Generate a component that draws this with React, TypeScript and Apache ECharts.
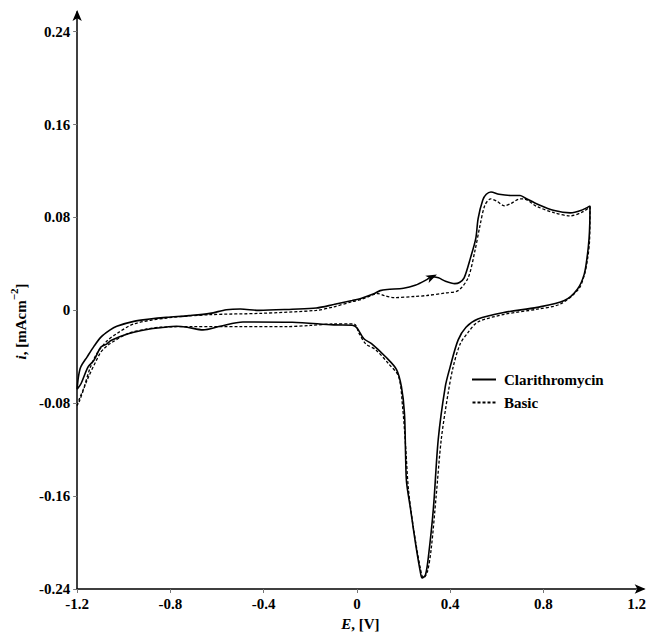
import React, { useEffect, useRef } from "react";
import * as echarts from "echarts";

// Potential E [V] and current density i [mA cm^-2]
const clariAnodic: [number, number][] = [
  [-1.2, -0.068], [-1.195, -0.058], [-1.185, -0.049], [-1.157, -0.040], [-1.128, -0.031],
  [-1.098, -0.023], [-1.06, -0.017], [-1.03, -0.0137], [-0.957, -0.0095], [-0.889, -0.0075],
  [-0.817, -0.006], [-0.72, -0.0045], [-0.63, -0.0026], [-0.56, 0.0005], [-0.5, 0.0012],
  [-0.42, 0.0], [-0.277, 0.001], [-0.174, 0.002], [-0.1, 0.005], [-0.02, 0.0085],
  [0.02, 0.0105], [0.07, 0.014], [0.1, 0.017], [0.13, 0.018], [0.2, 0.019],
  [0.25, 0.0216], [0.3, 0.0265], [0.32, 0.029], [0.35, 0.028], [0.38, 0.025],
  [0.42, 0.023], [0.44, 0.024], [0.46, 0.028], [0.487, 0.045], [0.51, 0.062],
  [0.52, 0.079], [0.54, 0.095], [0.555, 0.1], [0.575, 0.102], [0.61, 0.1],
  [0.66, 0.099], [0.7, 0.099], [0.72, 0.097], [0.78, 0.091], [0.847, 0.086],
  [0.915, 0.084], [0.96, 0.086], [1.0, 0.09],
];
const clariCathodic: [number, number][] = [
  [0.999, 0.075], [0.996, 0.062], [0.989, 0.048], [0.975, 0.031], [0.945, 0.018],
  [0.89, 0.0085], [0.774, 0.0026], [0.634, -0.0017], [0.519, -0.0074], [0.468, -0.0145],
  [0.434, -0.0256], [0.4, -0.0487], [0.379, -0.0658], [0.349, -0.111], [0.328, -0.171],
  [0.306, -0.2135], [0.294, -0.228], [0.28, -0.2305], [0.272, -0.225], [0.251, -0.2],
  [0.23, -0.171], [0.213, -0.148], [0.209, -0.1255], [0.204, -0.0886], [0.191, -0.0658],
  [0.17, -0.051], [0.123, -0.04], [0.064, -0.0288], [0.03, -0.0245], [0.0, -0.015],
  [-0.02, -0.0128], [-0.1, -0.0125], [-0.277, -0.0102], [-0.489, -0.01], [-0.587, -0.0137],
  [-0.66, -0.0168], [-0.728, -0.0145], [-0.774, -0.0137], [-0.843, -0.015], [-0.889, -0.016],
  [-0.957, -0.0188], [-1.0, -0.0215], [-1.055, -0.026], [-1.072, -0.0288], [-1.098, -0.0316],
  [-1.128, -0.043], [-1.153, -0.0487], [-1.183, -0.063], [-1.2, -0.068],
];
const basicAnodic: [number, number][] = [
  [-1.2, -0.082], [-1.19, -0.076], [-1.17, -0.066], [-1.145, -0.05], [-1.115, -0.037],
  [-1.07, -0.026], [-1.03, -0.02], [-0.957, -0.0117], [-0.817, -0.0066], [-0.63, -0.0037],
  [-0.417, -0.0026], [-0.174, 0.0], [-0.1, 0.003], [-0.02, 0.0075], [0.02, 0.0095],
  [0.07, 0.0135], [0.09, 0.0145], [0.12, 0.0125], [0.16, 0.011], [0.25, 0.012],
  [0.3, 0.0128], [0.38, 0.015], [0.434, 0.017], [0.477, 0.028], [0.506, 0.051],
  [0.528, 0.073], [0.549, 0.0905], [0.574, 0.096], [0.6, 0.094], [0.634, 0.09],
  [0.66, 0.092], [0.7, 0.096], [0.715, 0.096], [0.77, 0.0897], [0.847, 0.084],
  [0.915, 0.0814], [0.97, 0.085], [1.0, 0.089],
];
const basicCathodic: [number, number][] = [
  [0.998, 0.06], [0.99, 0.045], [0.975, 0.03], [0.95, 0.018], [0.872, 0.0054],
  [0.774, 0.001], [0.634, -0.0034], [0.519, -0.01], [0.477, -0.019], [0.443, -0.029],
  [0.413, -0.0487], [0.391, -0.0717], [0.362, -0.111], [0.34, -0.16], [0.319, -0.205],
  [0.302, -0.2255], [0.285, -0.2306], [0.272, -0.222], [0.243, -0.188], [0.221, -0.154],
  [0.209, -0.117], [0.196, -0.083], [0.179, -0.057], [0.136, -0.046], [0.081, -0.034],
  [0.038, -0.0288], [0.01, -0.02], [-0.013, -0.0117], [-0.1, -0.0117], [-0.2, -0.013],
  [-0.3, -0.014], [-0.5, -0.014], [-0.7, -0.014], [-0.843, -0.0145], [-0.9, -0.016],
  [-0.983, -0.02], [-1.06, -0.0288], [-1.085, -0.033], [-1.102, -0.037], [-1.157, -0.06],
  [-1.19, -0.078], [-1.2, -0.082],
];

const xTicks = [-1.2, -0.8, -0.4, 0, 0.4, 0.8, 1.2];
const yTicks = [-0.24, -0.16, -0.08, 0, 0.08, 0.16, 0.24];
const seriesNames = ["Clarithromycin", "Basic"];
const scanArrow: [number, number] = [0.322, 0.0288];

const FONT = "Liberation Serif";

const fmt = (v: number) => String(+v.toFixed(2));

const SOLID_ICON = "path://M0,0 L24,0 L24,2 L0,2 Z";
const DASH_ICON =
  "path://M0,0h3v2h-3z M5,0h3v2h-3z M10,0h3v2h-3z M15,0h3v2h-3z M20,0h3v2h-3z";

export default function App() {
  const ref = useRef<HTMLDivElement>(null);
  useEffect(() => {
    if (!ref.current) return;
    const chart = echarts.init(ref.current, null, { renderer: "svg" });
    const axisText = { fontFamily: FONT, fontWeight: "bold" as const, fontSize: 15, color: "#000" };
    chart.setOption({
      animation: false,
      backgroundColor: "#fff",
      grid: { left: 76, right: 2, top: 12, bottom: 42, containLabel: false },
      legend: {
        orient: "vertical",
        left: 472,
        top: 372,
        padding: 0,
        itemWidth: 24,
        itemHeight: 2,
        itemGap: 8,
        data: [
          { name: seriesNames[0], icon: SOLID_ICON },
          { name: seriesNames[1], icon: DASH_ICON },
        ],
        itemStyle: { color: "#000" },
        textStyle: { ...axisText, fontSize: 15, padding: [0, 0, 0, 3] },
      },
      xAxis: {
        type: "value",
        min: -1.2,
        max: 1.23,
        name: "{i|E}{n|, [V]}",
        nameLocation: "middle",
        nameGap: 27,
        nameTextStyle: {
          rich: {
            i: { ...axisText, fontStyle: "italic" },
            n: { ...axisText },
          },
        },
        splitLine: { show: false },
        axisLine: {
          onZero: false,
          lineStyle: { color: "#000", width: 1.5 },
          symbol: ["none", "arrow"],
          symbolSize: [7, 11],
          symbolOffset: [0, 2],
        },
        axisTick: { show: true, length: 4, customValues: xTicks, lineStyle: { color: "#777", width: 1 } },
        axisLabel: { ...axisText, margin: 7, customValues: xTicks, formatter: (v: number) => fmt(v) },
      },
      yAxis: {
        type: "value",
        min: -0.24,
        max: 0.257,
        name: "{i|i}{n|, [mAcm}{s|−2}{n|]}",
        nameLocation: "middle",
        nameGap: 48,
        nameTextStyle: {
          padding: [0, 42, 0, 0],
          rich: {
            i: { ...axisText, fontStyle: "italic", lineHeight: 20, verticalAlign: "bottom" },
            n: { ...axisText, lineHeight: 20, verticalAlign: "bottom" },
            s: { ...axisText, fontSize: 11, lineHeight: 11, verticalAlign: "top" },
          },
        },
        splitLine: { show: false },
        axisLine: {
          onZero: false,
          lineStyle: { color: "#000", width: 1.5 },
          symbol: ["none", "arrow"],
          symbolSize: [7, 11],
          symbolOffset: [0, 2],
        },
        axisTick: { show: true, length: 4, customValues: yTicks, lineStyle: { color: "#777", width: 1 } },
        axisLabel: { ...axisText, margin: 7, customValues: yTicks, formatter: (v: number) => fmt(v) },
      },
      series: [
        {
          name: seriesNames[0],
          type: "line",
          data: [...clariAnodic, ...clariCathodic],
          showSymbol: false,
          symbol: "none",
          smooth: 0.3,
          lineStyle: { color: "#000", width: 1.6, type: "solid" },
          itemStyle: { color: "#000" },
          markPoint: {
            symbol: "path://M0,0 L12,5 L0,10 L3,5 Z",
            symbolSize: [11, 8],
            symbolRotate: 25,
            itemStyle: { color: "#000" },
            label: { show: false },
            data: [{ coord: scanArrow }],
          },
        },
        {
          name: seriesNames[1],
          type: "line",
          data: [...basicAnodic, ...basicCathodic],
          showSymbol: false,
          symbol: "none",
          smooth: 0.3,
          lineStyle: { color: "#000", width: 1.3, type: [3, 2] },
          itemStyle: { color: "#000" },
        },
      ],
    });
    return () => chart.dispose();
  }, []);
  return (
    <div
      ref={ref}
      style={{ position: "fixed", left: 0, top: 0, width: 649, height: 636, background: "#fff" }}
    />
  );
}
